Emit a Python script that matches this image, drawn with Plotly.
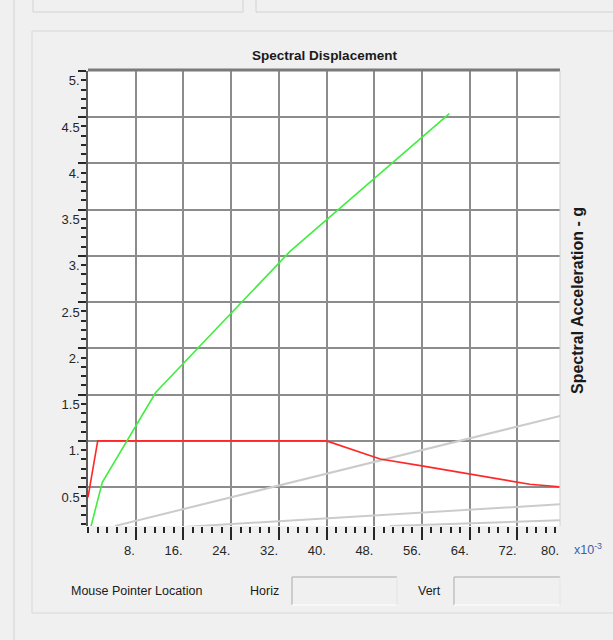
import plotly.graph_objects as go

# ---- data: spectral displacement (x, in units of 1e-3 on the labels) vs spectral acceleration (g)
capacity_sd = [0.0002, 0.0024, 0.01135, 0.03388, 0.0606]
capacity_sa = [0.0, 0.553, 1.523, 3.049, 4.539]

demand_sd = [0.0, 0.00163, 0.0400, 0.0490, 0.0560, 0.0641, 0.0741, 0.0790]
demand_sa = [0.39, 1.0, 1.0, 0.805, 0.730, 0.643, 0.531, 0.505]

period_a_sd = [0.00453, 0.0792]
period_a_sa = [0.08, 1.27]
period_b_sd = [0.0161, 0.0792]
period_b_sa = [0.070, 0.315]
period_c_sd = [0.0506, 0.0792]
period_c_sa = [0.08, 0.1417]

x_tick_vals = [0.008, 0.016, 0.024, 0.032, 0.040, 0.048, 0.056, 0.064, 0.072]
x_tick_text = ["8.", "16.", "24.", "32.", "40.", "48.", "56.", "64.", "72."]
x_last_tick_text = "80."
y_tick_vals = [0.5, 1.0, 1.5, 2.0, 2.5, 3.0, 3.5, 4.0, 4.5, 5.0]
y_tick_text = ["0.5", "1.", "1.5", "2.", "2.5", "3.", "3.5", "4.", "4.5", "5."]

X_RANGE = [0.0, 0.07916]
Y_RANGE = [0.08, 5.0]

# ---- page geometry (pixels)
W, H = 613, 640
L, T, PW, PH = 88, 71, 472, 455

FONT = "Liberation Sans, Arial, sans-serif"
TEXT = "#1a1a1a"
TICK_TEXT = "#262626"
BG = "#f0f0f0"


def fx(xp):
    return (xp - L) / PW


def fy(yp):
    return (T + PH - yp) / PH


fig = go.Figure()

for sx, sy in [(period_a_sd, period_a_sa), (period_b_sd, period_b_sa), (period_c_sd, period_c_sa)]:
    fig.add_trace(go.Scatter(x=sx, y=sy, mode="lines",
                             line=dict(color="#cbcbcb", width=2), hoverinfo="skip"))

fig.add_trace(go.Scatter(x=demand_sd, y=demand_sa, mode="lines",
                         line=dict(color="#ff2828", width=1.6)))
fig.add_trace(go.Scatter(x=capacity_sd, y=capacity_sa, mode="lines",
                         line=dict(color="#40ee40", width=1.6)))

shapes = []
line_c = "#d2d2d2"
# outer frame pieces
shapes.append(dict(type="line", x0=fx(14), x1=fx(14), y0=fy(0), y1=fy(640),
                   line=dict(color=line_c, width=1)))
shapes.append(dict(type="rect", x0=fx(33), x1=fx(243), y0=fy(-3), y1=fy(12),
                   line=dict(color=line_c, width=1)))
shapes.append(dict(type="rect", x0=fx(256), x1=fx(616), y0=fy(-3), y1=fy(12),
                   line=dict(color=line_c, width=1)))
shapes.append(dict(type="rect", x0=fx(32), x1=fx(616), y0=fy(31), y1=fy(613),
                   line=dict(color="#d8d8d8", width=1), layer="below"))
# heavy top border and light right border of the plot area
shapes.append(dict(type="line", x0=0, x1=1, y0=1.002, y1=1.002,
                   line=dict(color="#7a7a7a", width=3)))
shapes.append(dict(type="line", x0=1, x1=1, y0=0, y1=1,
                   line=dict(color="#cfcfcf", width=1)))
# readout boxes
for bx0, bx1 in [(292, 397), (454, 560)]:
    shapes.append(dict(type="line", x0=fx(bx0), x1=fx(bx1), y0=fy(577), y1=fy(577),
                       line=dict(color="#a9a9a9", width=1)))
    shapes.append(dict(type="line", x0=fx(bx0), x1=fx(bx0), y0=fy(577), y1=fy(605),
                       line=dict(color="#a9a9a9", width=1)))
    shapes.append(dict(type="line", x0=fx(bx0), x1=fx(bx1), y0=fy(605), y1=fy(605),
                       line=dict(color="#ffffff", width=1)))
    shapes.append(dict(type="line", x0=fx(bx1), x1=fx(bx1), y0=fy(577), y1=fy(605),
                       line=dict(color="#e4e4e4", width=1)))
for s in shapes:
    s.update(xref="paper", yref="paper")

annotations = [
    dict(text="Spectral Acceleration - g", x=fx(577), y=fy(301), textangle=-90,
         font=dict(family=FONT, size=16, color=TEXT, weight="bold")),
    dict(text="x10<sup>-3</sup>", x=fx(572), y=fy(549), xanchor="left",
         font=dict(family=FONT, size=12.5, color="#3a62a8")),
    dict(text=x_last_tick_text, x=fx(561), y=fy(550), xanchor="right",
         font=dict(family=FONT, size=13, color=TICK_TEXT)),
    dict(text="Mouse Pointer Location", x=fx(136), y=fy(591),
         font=dict(family=FONT, size=12.5, color=TEXT)),
    dict(text="Horiz", x=fx(264), y=fy(591),
         font=dict(family=FONT, size=12.5, color=TEXT)),
    dict(text="Vert", x=fx(429), y=fy(591),
         font=dict(family=FONT, size=12.5, color=TEXT)),
]
for a in annotations:
    a.update(xref="paper", yref="paper", showarrow=False)
    a.setdefault("xanchor", "center")
    a.setdefault("yanchor", "middle")

fig.update_layout(
    width=W, height=H,
    margin=dict(l=L, r=W - L - PW, t=T, b=H - T - PH, pad=0),
    paper_bgcolor=BG, plot_bgcolor="#ffffff",
    showlegend=False,
    title=dict(text="<b>Spectral Displacement</b>", x=fx(324.5), xref="paper",
               y=1 - 55 / H, yref="container", xanchor="center", yanchor="middle",
               font=dict(family=FONT, size=13.5, color=TEXT)),
    shapes=shapes,
    annotations=annotations,
)

fig.update_xaxes(
    range=X_RANGE, tickmode="array", tickvals=x_tick_vals, ticktext=x_tick_text,
    ticklabelposition="outside left", ticklabelstandoff=12,
    ticks="outside", ticklen=13, tickwidth=1.5, tickcolor="#262626",
    tickfont=dict(family=FONT, size=13, color=TICK_TEXT),
    showgrid=True, gridcolor="#8c8c8c", gridwidth=1.5,
    showline=False, zeroline=False,
    minor=dict(tickmode="linear", tick0=0, dtick=0.0016, ticks="outside",
               ticklen=6, tickwidth=1.5, tickcolor="#262626", showgrid=False),
)
fig.update_yaxes(
    range=Y_RANGE, tickmode="array", tickvals=y_tick_vals, ticktext=y_tick_text,
    ticklabelposition="outside bottom", ticklabelstandoff=4,
    ticks="outside", ticklen=8, tickwidth=1.5, tickcolor="#262626",
    tickfont=dict(family=FONT, size=13, color=TICK_TEXT),
    showgrid=True, gridcolor="#8c8c8c", gridwidth=1.5,
    showline=True, linecolor="#5a5a5a", linewidth=1.5, zeroline=False,
    minor=dict(tickmode="linear", tick0=0, dtick=0.1, ticks="outside",
               ticklen=5, tickwidth=1.5, tickcolor="#262626", showgrid=False),
)

fig.write_html("out.html")
